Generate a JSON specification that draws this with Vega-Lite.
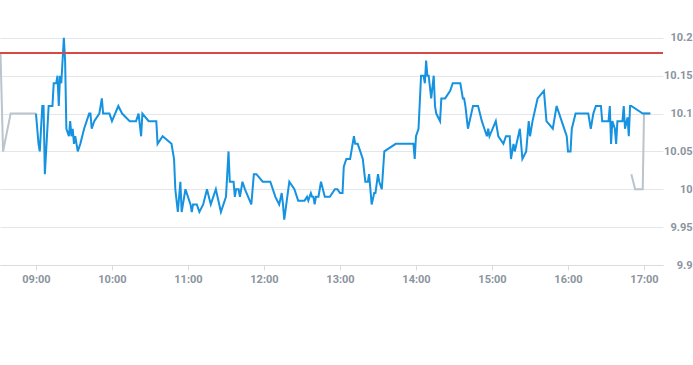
{
  "$schema": "https://vega.github.io/schema/vega-lite/v6.json",
  "width": 663,
  "height": 265,
  "padding": {"left": 0, "top": 0, "right": 30, "bottom": 100},
  "autosize": {"type": "none"},
  "background": "white",
  "config": {"view": {"stroke": null}, "font": "Roboto"},
  "data": {"values": [
      {"t":"2024-01-02T08:32:00","v":10.18,"s":"pre"},
      {"t":"2024-01-02T08:34:00","v":10.05,"s":"pre"},
      {"t":"2024-01-02T08:40:00","v":10.10,"s":"pre"},
      {"t":"2024-01-02T09:00:00","v":10.10,"s":"pre"},
      {"t":"2024-01-02T16:50:00","v":10.02,"s":"post"},
      {"t":"2024-01-02T16:53:00","v":10.00,"s":"post"},
      {"t":"2024-01-02T16:59:00","v":10.00,"s":"post"},
      {"t":"2024-01-02T17:00:00","v":10.10,"s":"post"},
      {"t":"2024-01-02T17:05:00","v":10.10,"s":"post"},
      {"t":"2024-01-02T09:00:00","v":10.10,"s":"main"},
      {"t":"2024-01-02T09:02:00","v":10.06,"s":"main"},
      {"t":"2024-01-02T09:03:00","v":10.05,"s":"main"},
      {"t":"2024-01-02T09:05:00","v":10.11,"s":"main"},
      {"t":"2024-01-02T09:06:00","v":10.11,"s":"main"},
      {"t":"2024-01-02T09:07:00","v":10.02,"s":"main"},
      {"t":"2024-01-02T09:10:00","v":10.11,"s":"main"},
      {"t":"2024-01-02T09:13:00","v":10.11,"s":"main"},
      {"t":"2024-01-02T09:14:00","v":10.14,"s":"main"},
      {"t":"2024-01-02T09:16:00","v":10.14,"s":"main"},
      {"t":"2024-01-02T09:17:00","v":10.15,"s":"main"},
      {"t":"2024-01-02T09:18:00","v":10.11,"s":"main"},
      {"t":"2024-01-02T09:19:00","v":10.15,"s":"main"},
      {"t":"2024-01-02T09:20:00","v":10.14,"s":"main"},
      {"t":"2024-01-02T09:22:00","v":10.20,"s":"main"},
      {"t":"2024-01-02T09:23:00","v":10.17,"s":"main"},
      {"t":"2024-01-02T09:24:00","v":10.08,"s":"main"},
      {"t":"2024-01-02T09:26:00","v":10.07,"s":"main"},
      {"t":"2024-01-02T09:27:00","v":10.09,"s":"main"},
      {"t":"2024-01-02T09:28:00","v":10.07,"s":"main"},
      {"t":"2024-01-02T09:29:00","v":10.08,"s":"main"},
      {"t":"2024-01-02T09:30:00","v":10.06,"s":"main"},
      {"t":"2024-01-02T09:31:00","v":10.07,"s":"main"},
      {"t":"2024-01-02T09:33:00","v":10.05,"s":"main"},
      {"t":"2024-01-02T09:35:00","v":10.06,"s":"main"},
      {"t":"2024-01-02T09:38:00","v":10.08,"s":"main"},
      {"t":"2024-01-02T09:40:00","v":10.09,"s":"main"},
      {"t":"2024-01-02T09:42:00","v":10.10,"s":"main"},
      {"t":"2024-01-02T09:43:00","v":10.10,"s":"main"},
      {"t":"2024-01-02T09:44:00","v":10.08,"s":"main"},
      {"t":"2024-01-02T09:46:00","v":10.09,"s":"main"},
      {"t":"2024-01-02T09:50:00","v":10.10,"s":"main"},
      {"t":"2024-01-02T09:52:00","v":10.12,"s":"main"},
      {"t":"2024-01-02T09:53:00","v":10.10,"s":"main"},
      {"t":"2024-01-02T09:58:00","v":10.10,"s":"main"},
      {"t":"2024-01-02T10:00:00","v":10.09,"s":"main"},
      {"t":"2024-01-02T10:05:00","v":10.11,"s":"main"},
      {"t":"2024-01-02T10:08:00","v":10.10,"s":"main"},
      {"t":"2024-01-02T10:14:00","v":10.09,"s":"main"},
      {"t":"2024-01-02T10:19:00","v":10.09,"s":"main"},
      {"t":"2024-01-02T10:21:00","v":10.10,"s":"main"},
      {"t":"2024-01-02T10:23:00","v":10.07,"s":"main"},
      {"t":"2024-01-02T10:24:00","v":10.10,"s":"main"},
      {"t":"2024-01-02T10:29:00","v":10.09,"s":"main"},
      {"t":"2024-01-02T10:35:00","v":10.09,"s":"main"},
      {"t":"2024-01-02T10:36:00","v":10.06,"s":"main"},
      {"t":"2024-01-02T10:40:00","v":10.07,"s":"main"},
      {"t":"2024-01-02T10:47:00","v":10.06,"s":"main"},
      {"t":"2024-01-02T10:49:00","v":10.04,"s":"main"},
      {"t":"2024-01-02T10:50:00","v":10.00,"s":"main"},
      {"t":"2024-01-02T10:52:00","v":9.97,"s":"main"},
      {"t":"2024-01-02T10:54:00","v":10.01,"s":"main"},
      {"t":"2024-01-02T10:55:00","v":9.97,"s":"main"},
      {"t":"2024-01-02T10:58:00","v":10.00,"s":"main"},
      {"t":"2024-01-02T11:02:00","v":9.98,"s":"main"},
      {"t":"2024-01-02T11:03:00","v":9.97,"s":"main"},
      {"t":"2024-01-02T11:04:00","v":9.98,"s":"main"},
      {"t":"2024-01-02T11:07:00","v":9.98,"s":"main"},
      {"t":"2024-01-02T11:09:00","v":9.97,"s":"main"},
      {"t":"2024-01-02T11:12:00","v":9.98,"s":"main"},
      {"t":"2024-01-02T11:15:00","v":10.00,"s":"main"},
      {"t":"2024-01-02T11:18:00","v":9.98,"s":"main"},
      {"t":"2024-01-02T11:22:00","v":10.00,"s":"main"},
      {"t":"2024-01-02T11:26:00","v":9.97,"s":"main"},
      {"t":"2024-01-02T11:28:00","v":9.98,"s":"main"},
      {"t":"2024-01-02T11:30:00","v":9.99,"s":"main"},
      {"t":"2024-01-02T11:32:00","v":10.05,"s":"main"},
      {"t":"2024-01-02T11:33:00","v":10.01,"s":"main"},
      {"t":"2024-01-02T11:36:00","v":10.01,"s":"main"},
      {"t":"2024-01-02T11:37:00","v":9.99,"s":"main"},
      {"t":"2024-01-02T11:38:00","v":10.00,"s":"main"},
      {"t":"2024-01-02T11:40:00","v":10.00,"s":"main"},
      {"t":"2024-01-02T11:41:00","v":9.99,"s":"main"},
      {"t":"2024-01-02T11:43:00","v":10.01,"s":"main"},
      {"t":"2024-01-02T11:45:00","v":10.00,"s":"main"},
      {"t":"2024-01-02T11:50:00","v":9.98,"s":"main"},
      {"t":"2024-01-02T11:52:00","v":10.02,"s":"main"},
      {"t":"2024-01-02T11:54:00","v":10.02,"s":"main"},
      {"t":"2024-01-02T11:59:00","v":10.01,"s":"main"},
      {"t":"2024-01-02T12:05:00","v":10.01,"s":"main"},
      {"t":"2024-01-02T12:09:00","v":9.99,"s":"main"},
      {"t":"2024-01-02T12:12:00","v":9.98,"s":"main"},
      {"t":"2024-01-02T12:14:00","v":9.995,"s":"main"},
      {"t":"2024-01-02T12:15:00","v":9.98,"s":"main"},
      {"t":"2024-01-02T12:16:00","v":9.96,"s":"main"},
      {"t":"2024-01-02T12:20:00","v":10.01,"s":"main"},
      {"t":"2024-01-02T12:24:00","v":10.00,"s":"main"},
      {"t":"2024-01-02T12:27:00","v":9.985,"s":"main"},
      {"t":"2024-01-02T12:32:00","v":9.985,"s":"main"},
      {"t":"2024-01-02T12:34:00","v":9.99,"s":"main"},
      {"t":"2024-01-02T12:35:00","v":9.985,"s":"main"},
      {"t":"2024-01-02T12:37:00","v":9.995,"s":"main"},
      {"t":"2024-01-02T12:38:00","v":9.99,"s":"main"},
      {"t":"2024-01-02T12:39:00","v":9.99,"s":"main"},
      {"t":"2024-01-02T12:40:00","v":9.98,"s":"main"},
      {"t":"2024-01-02T12:41:00","v":9.99,"s":"main"},
      {"t":"2024-01-02T12:43:00","v":9.99,"s":"main"},
      {"t":"2024-01-02T12:45:00","v":10.01,"s":"main"},
      {"t":"2024-01-02T12:48:00","v":9.99,"s":"main"},
      {"t":"2024-01-02T12:52:00","v":9.99,"s":"main"},
      {"t":"2024-01-02T12:56:00","v":10.00,"s":"main"},
      {"t":"2024-01-02T12:58:00","v":10.00,"s":"main"},
      {"t":"2024-01-02T13:00:00","v":9.995,"s":"main"},
      {"t":"2024-01-02T13:02:00","v":9.995,"s":"main"},
      {"t":"2024-01-02T13:03:00","v":10.03,"s":"main"},
      {"t":"2024-01-02T13:05:00","v":10.04,"s":"main"},
      {"t":"2024-01-02T13:08:00","v":10.04,"s":"main"},
      {"t":"2024-01-02T13:11:00","v":10.07,"s":"main"},
      {"t":"2024-01-02T13:12:00","v":10.06,"s":"main"},
      {"t":"2024-01-02T13:14:00","v":10.06,"s":"main"},
      {"t":"2024-01-02T13:18:00","v":10.04,"s":"main"},
      {"t":"2024-01-02T13:20:00","v":10.01,"s":"main"},
      {"t":"2024-01-02T13:22:00","v":10.01,"s":"main"},
      {"t":"2024-01-02T13:23:00","v":10.02,"s":"main"},
      {"t":"2024-01-02T13:25:00","v":9.98,"s":"main"},
      {"t":"2024-01-02T13:27:00","v":9.995,"s":"main"},
      {"t":"2024-01-02T13:28:00","v":9.995,"s":"main"},
      {"t":"2024-01-02T13:30:00","v":10.02,"s":"main"},
      {"t":"2024-01-02T13:31:00","v":10.01,"s":"main"},
      {"t":"2024-01-02T13:33:00","v":10.00,"s":"main"},
      {"t":"2024-01-02T13:35:00","v":10.05,"s":"main"},
      {"t":"2024-01-02T13:44:00","v":10.06,"s":"main"},
      {"t":"2024-01-02T13:58:00","v":10.06,"s":"main"},
      {"t":"2024-01-02T13:59:00","v":10.04,"s":"main"},
      {"t":"2024-01-02T14:00:00","v":10.07,"s":"main"},
      {"t":"2024-01-02T14:02:00","v":10.08,"s":"main"},
      {"t":"2024-01-02T14:04:00","v":10.15,"s":"main"},
      {"t":"2024-01-02T14:06:00","v":10.15,"s":"main"},
      {"t":"2024-01-02T14:07:00","v":10.14,"s":"main"},
      {"t":"2024-01-02T14:08:00","v":10.17,"s":"main"},
      {"t":"2024-01-02T14:09:00","v":10.15,"s":"main"},
      {"t":"2024-01-02T14:10:00","v":10.15,"s":"main"},
      {"t":"2024-01-02T14:12:00","v":10.12,"s":"main"},
      {"t":"2024-01-02T14:14:00","v":10.15,"s":"main"},
      {"t":"2024-01-02T14:15:00","v":10.11,"s":"main"},
      {"t":"2024-01-02T14:16:00","v":10.10,"s":"main"},
      {"t":"2024-01-02T14:19:00","v":10.09,"s":"main"},
      {"t":"2024-01-02T14:20:00","v":10.12,"s":"main"},
      {"t":"2024-01-02T14:23:00","v":10.12,"s":"main"},
      {"t":"2024-01-02T14:27:00","v":10.13,"s":"main"},
      {"t":"2024-01-02T14:29:00","v":10.14,"s":"main"},
      {"t":"2024-01-02T14:35:00","v":10.14,"s":"main"},
      {"t":"2024-01-02T14:37:00","v":10.12,"s":"main"},
      {"t":"2024-01-02T14:38:00","v":10.12,"s":"main"},
      {"t":"2024-01-02T14:39:00","v":10.11,"s":"main"},
      {"t":"2024-01-02T14:41:00","v":10.08,"s":"main"},
      {"t":"2024-01-02T14:45:00","v":10.11,"s":"main"},
      {"t":"2024-01-02T14:49:00","v":10.11,"s":"main"},
      {"t":"2024-01-02T14:52:00","v":10.09,"s":"main"},
      {"t":"2024-01-02T14:54:00","v":10.08,"s":"main"},
      {"t":"2024-01-02T14:56:00","v":10.07,"s":"main"},
      {"t":"2024-01-02T14:57:00","v":10.08,"s":"main"},
      {"t":"2024-01-02T14:58:00","v":10.07,"s":"main"},
      {"t":"2024-01-02T15:03:00","v":10.09,"s":"main"},
      {"t":"2024-01-02T15:05:00","v":10.07,"s":"main"},
      {"t":"2024-01-02T15:09:00","v":10.06,"s":"main"},
      {"t":"2024-01-02T15:11:00","v":10.07,"s":"main"},
      {"t":"2024-01-02T15:14:00","v":10.07,"s":"main"},
      {"t":"2024-01-02T15:15:00","v":10.04,"s":"main"},
      {"t":"2024-01-02T15:17:00","v":10.06,"s":"main"},
      {"t":"2024-01-02T15:18:00","v":10.05,"s":"main"},
      {"t":"2024-01-02T15:22:00","v":10.08,"s":"main"},
      {"t":"2024-01-02T15:24:00","v":10.04,"s":"main"},
      {"t":"2024-01-02T15:27:00","v":10.05,"s":"main"},
      {"t":"2024-01-02T15:29:00","v":10.09,"s":"main"},
      {"t":"2024-01-02T15:30:00","v":10.07,"s":"main"},
      {"t":"2024-01-02T15:32:00","v":10.09,"s":"main"},
      {"t":"2024-01-02T15:36:00","v":10.12,"s":"main"},
      {"t":"2024-01-02T15:41:00","v":10.13,"s":"main"},
      {"t":"2024-01-02T15:43:00","v":10.09,"s":"main"},
      {"t":"2024-01-02T15:48:00","v":10.08,"s":"main"},
      {"t":"2024-01-02T15:51:00","v":10.11,"s":"main"},
      {"t":"2024-01-02T15:55:00","v":10.09,"s":"main"},
      {"t":"2024-01-02T15:59:00","v":10.07,"s":"main"},
      {"t":"2024-01-02T16:00:00","v":10.05,"s":"main"},
      {"t":"2024-01-02T16:02:00","v":10.05,"s":"main"},
      {"t":"2024-01-02T16:03:00","v":10.08,"s":"main"},
      {"t":"2024-01-02T16:06:00","v":10.10,"s":"main"},
      {"t":"2024-01-02T16:16:00","v":10.10,"s":"main"},
      {"t":"2024-01-02T16:18:00","v":10.08,"s":"main"},
      {"t":"2024-01-02T16:20:00","v":10.10,"s":"main"},
      {"t":"2024-01-02T16:22:00","v":10.11,"s":"main"},
      {"t":"2024-01-02T16:26:00","v":10.11,"s":"main"},
      {"t":"2024-01-02T16:27:00","v":10.09,"s":"main"},
      {"t":"2024-01-02T16:32:00","v":10.09,"s":"main"},
      {"t":"2024-01-02T16:33:00","v":10.11,"s":"main"},
      {"t":"2024-01-02T16:34:00","v":10.06,"s":"main"},
      {"t":"2024-01-02T16:35:00","v":10.09,"s":"main"},
      {"t":"2024-01-02T16:37:00","v":10.08,"s":"main"},
      {"t":"2024-01-02T16:38:00","v":10.06,"s":"main"},
      {"t":"2024-01-02T16:39:00","v":10.09,"s":"main"},
      {"t":"2024-01-02T16:43:00","v":10.09,"s":"main"},
      {"t":"2024-01-02T16:44:00","v":10.11,"s":"main"},
      {"t":"2024-01-02T16:45:00","v":10.08,"s":"main"},
      {"t":"2024-01-02T16:47:00","v":10.095,"s":"main"},
      {"t":"2024-01-02T16:48:00","v":10.07,"s":"main"},
      {"t":"2024-01-02T16:49:00","v":10.11,"s":"main"},
      {"t":"2024-01-02T16:50:00","v":10.11,"s":"main"},
      {"t":"2024-01-02T16:59:00","v":10.10,"s":"main"},
      {"t":"2024-01-02T17:00:00","v":10.10,"s":"main"},
      {"t":"2024-01-02T17:05:00","v":10.10,"s":"main"}
  ]},
  "layer": [
    {
      "mark": {"type": "line", "strokeWidth": 2},
      "encoding": {
        "x": {
          "field": "t", "type": "temporal",
          "scale": {"domain": ["2024-01-02T08:31:36", "2024-01-02T17:15:00"], "nice": false},
          "axis": {
            "title": null, "format": "%H:%M", "tickCount": 9,
            "grid": false, "domainColor": "#d9dde2", "tickColor": "#d9dde2", "tickSize": 5,
            "labelColor": "#8a949e", "labelFontSize": 11, "labelFontWeight": "bold", "labelPadding": 3
          }
        },
        "y": {
          "field": "v", "type": "quantitative",
          "scale": {"domain": [9.9, 10.25], "nice": false, "zero": false},
          "axis": {
            "title": null, "orient": "right",
            "values": [9.9, 9.95, 10, 10.05, 10.1, 10.15, 10.2],
            "format": ".2~f", "domain": false, "ticks": false,
            "gridColor": "#e3e6ea",
            "labelAlign": "right", "labelPadding": 29,
            "labelColor": "#8a949e", "labelFontSize": 11, "labelFontWeight": "bold"
          }
        },
        "color": {
          "field": "s", "type": "nominal",
          "scale": {"domain": ["pre", "post", "main"], "range": ["#b9c4cc", "#b9c4cc", "#1592e0"]},
          "legend": null
        }
      }
    },
    {
      "mark": {"type": "rule", "color": "#d44a45", "strokeWidth": 1},
      "encoding": {"y": {"datum": 10.18}}
    }
  ]
}
